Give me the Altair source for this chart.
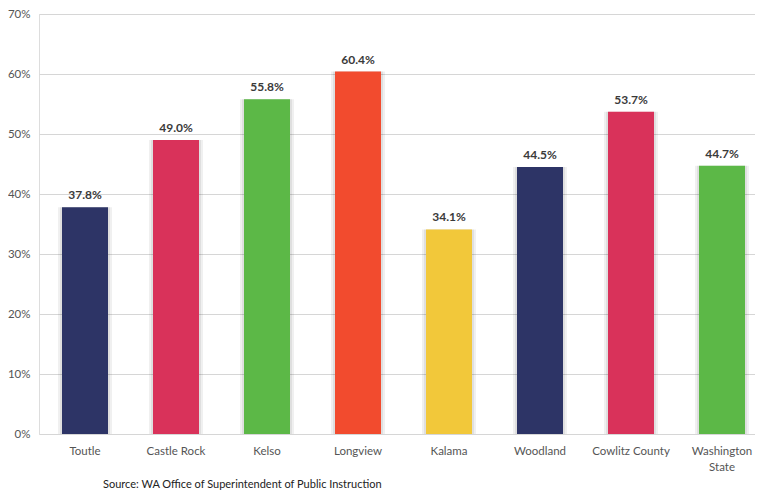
import altair as alt
import pandas as pd

districts = ["Toutle", "Castle Rock", "Kelso", "Longview", "Kalama",
             "Woodland", "Cowlitz County", "Washington State"]
rates = [37.8, 49.0, 55.8, 60.4, 34.1, 44.5, 53.7, 44.7]
bar_colors = ["#2d3466", "#d9325a", "#5cb847", "#f24b2e", "#f2c83a",
              "#2d3466", "#d9325a", "#5cb847"]
y_ticks = [0, 10, 20, 30, 40, 50, 60, 70]
source_note = "Source: WA Office of Superintendent of Public Instruction"

df = pd.DataFrame({"district": districts, "rate": rates, "color": bar_colors})
df["label"] = [f"{v:.1f}%" for v in rates]

AX_FONT = "Lato"

x_enc = alt.X(
    "district:N", sort=districts, title=None,
    scale=alt.Scale(range=[0, 729], paddingInner=0.495, paddingOuter=0.253),
    axis=alt.Axis(labelAngle=0, domain=False, ticks=False, tickSize=0,
                  labelPadding=11, labelFont=AX_FONT, labelFontSize=11.5,
                  labelColor="#555555", labelLineHeight=16,
                  labelExpr="datum.label == 'Washington State' ? ['Washington', 'State'] : datum.label"),
)
y_enc = alt.Y(
    "rate:Q", title=None,
    scale=alt.Scale(domain=[0, 70], nice=False),
    axis=alt.Axis(values=y_ticks, labelExpr="datum.value + '%'", domain=False,
                  ticks=False, tickSize=0, labelPadding=9, grid=True,
                  gridColor="#d6d6d6", gridWidth=1, labelFont=AX_FONT,
                  labelFontSize=11.5, labelColor="#555555"),
)

base = alt.Chart(df)

shadow = base.mark_bar(size=54, color="#000000", opacity=0.06).encode(x=x_enc, y=y_enc)
shadow2 = base.mark_bar(size=50, color="#000000", opacity=0.07).encode(x=x_enc, y=y_enc)
bars = base.mark_bar(size=46).encode(
    x=x_enc, y=y_enc, color=alt.Color("color:N", scale=None)
)
labels = base.mark_text(
    baseline="bottom", dy=-5, font="Lato", fontWeight="bold", fontSize=12,
    color="#3a3a3a"
).encode(x=x_enc, y=y_enc, text="label:N")

src = alt.Chart(pd.DataFrame({"t": [source_note]})).mark_text(
    align="left", baseline="middle", font=AX_FONT, fontSize=11, color="#222222"
).encode(x=alt.value(64), y=alt.value(471), text="t:N")

chart = alt.layer(shadow, shadow2, bars, labels, src).properties(
    width=716, height=420,
    autosize=alt.AutoSizeParams(type="none"),
    padding={"left": 31, "top": 6, "right": 0, "bottom": 57},
).configure_view(stroke=None).configure(background="white")

chart.save("out.html", embed_options={"renderer": "svg", "actions": False})
